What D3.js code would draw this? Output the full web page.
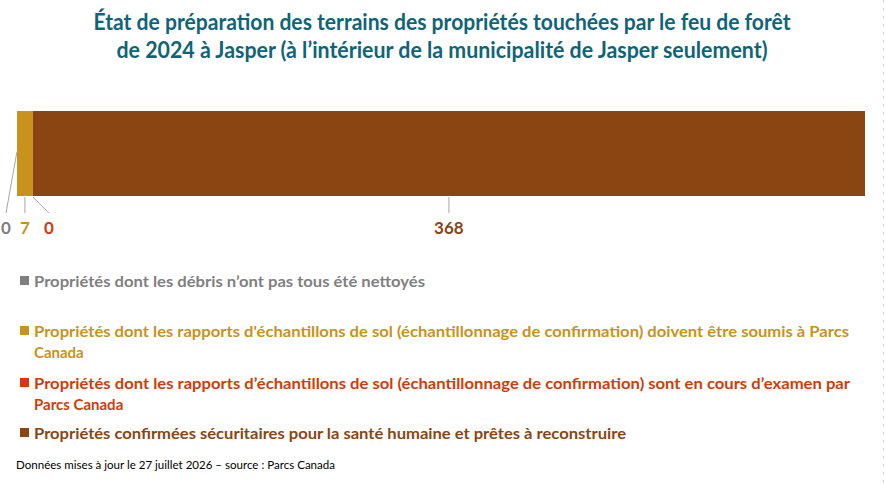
<!DOCTYPE html>
<html>
<head>
<meta charset="utf-8">
<style>
  body { margin: 0; background: #fff; }
  svg text { font-family: Lato, "Open Sans", sans-serif; font-weight: bold; }
</style>
</head>
<body>
<div id="chart"></div>
<script src="https://cdn.jsdelivr.net/npm/d3@7"></script>
<script>
// data
var categories = [
  "Propriétés dont les débris n’ont pas tous été nettoyés",
  "Propriétés dont les rapports d'échantillons de sol (échantillonnage de confirmation) doivent être soumis à Parcs Canada",
  "Propriétés dont les rapports d’échantillons de sol (échantillonnage de confirmation) sont en cours d’examen par Parcs Canada",
  "Propriétés confirmées sécuritaires pour la santé humaine et prêtes à reconstruire"
];
var values = [0, 7, 0, 368];
var colors = ["#7f7f7f", "#c9921c", "#d13b0b", "#8b4513"];
var legendLines = [
  ["Propriétés dont les débris n’ont pas tous été nettoyés"],
  ["Propriétés dont les rapports d'échantillons de sol (échantillonnage de confirmation) doivent être soumis à Parcs", "Canada"],
  ["Propriétés dont les rapports d’échantillons de sol (échantillonnage de confirmation) sont en cours d’examen par", "Parcs Canada"],
  ["Propriétés confirmées sécuritaires pour la santé humaine et prêtes à reconstruire"]
];
var titleLines = [
  "État de préparation des terrains des propriétés touchées par le feu de forêt",
  "de 2024 à Jasper (à l’intérieur de la municipalité de Jasper seulement)"
];
var footnote = "Données mises à jour le 27 juillet 2026 – source : Parcs Canada";

(function () {
  var width = 885, height = 484;
  var bar = { left: 17, right: 865, top: 111, bottom: 196 };

  var svg = d3.select("#chart").append("svg")
      .attr("width", width)
      .attr("height", height);

  // faint dashed edge on the right
  svg.append("line")
      .attr("x1", 883.5).attr("x2", 883.5)
      .attr("y1", 0).attr("y2", height)
      .style("stroke", "#d0d0d0")
      .style("stroke-width", 1)
      .style("stroke-dasharray", "2,6");

  // title
  svg.selectAll("text.title")
    .data(titleLines)
    .enter().append("text")
      .classed("title", true)
      .attr("x", 442)
      .attr("y", function (d, i) { return 30 + i * 28; })
      .attr("text-anchor", "middle")
      .attr("textLength", function (d, i) { return i === 0 ? 697 : 651; })
      .attr("lengthAdjust", "spacingAndGlyphs")
      .style("font-size", "22px")
      .style("fill", "#0f6478")
      .text(function (d) { return d; });

  // stacked bar
  var total = d3.sum(values);
  var xScale = d3.scaleLinear().domain([0, total]).range([bar.left, bar.right]);

  var stack = [];
  var acc = 0;
  values.forEach(function (v, i) {
    stack.push({ i: i, v: v, x0: acc, x1: acc + v });
    acc += v;
  });

  svg.selectAll("rect.seg")
    .data(stack)
    .enter().append("rect")
      .classed("seg", true)
      .attr("x", function (d) { return xScale(d.x0); })
      .attr("y", bar.top)
      .attr("width", function (d) { return xScale(d.x1) - xScale(d.x0); })
      .attr("height", bar.bottom - bar.top)
      .style("fill", function (d) { return colors[d.i]; });

  // data labels with leader lines
  var labelTop = 213, labelBase = 234;
  function labelX(d) {
    var mid = (xScale(d.x0) + xScale(d.x1)) / 2;
    if (d.v === 0) return d.i === 0 ? mid - 11 : mid + 16;
    return mid;
  }
  function anchorPt(d) {
    var mid = (xScale(d.x0) + xScale(d.x1)) / 2;
    if (d.v === 0 && d.i === 0) return [mid, (bar.top + bar.bottom) / 2 - 2];
    return [mid, bar.bottom + 1];
  }

  svg.selectAll("line.leader")
    .data(stack)
    .enter().append("line")
      .classed("leader", true)
      .attr("x1", function (d) { return anchorPt(d)[0]; })
      .attr("y1", function (d) { return anchorPt(d)[1]; })
      .attr("x2", function (d) { return labelX(d); })
      .attr("y2", labelTop)
      .style("stroke", "#a6a6a6")
      .style("stroke-width", 1);

  svg.selectAll("text.val")
    .data(stack)
    .enter().append("text")
      .classed("val", true)
      .attr("x", labelX)
      .attr("y", labelBase)
      .attr("text-anchor", "middle")
      .style("font-size", "17px")
      .style("fill", function (d) { return colors[d.i]; })
      .text(function (d) { return d.v; });

  // legend
  var rowY = [287, 337, 389, 439];
  var lineGap = 21;
  var legendWidths = [[391], [815, null], [816, null], [592]];

  var leg = svg.selectAll("g.leg")
    .data(categories)
    .enter().append("g")
      .classed("leg", true);

  leg.append("rect")
      .attr("x", 20)
      .attr("y", function (d, i) { return rowY[i] - 11; })
      .attr("width", 9)
      .attr("height", 9)
      .style("fill", function (d, i) { return colors[i]; });

  leg.each(function (d, i) {
    d3.select(this).selectAll("text")
      .data(legendLines[i])
      .enter().append("text")
        .attr("x", 34)
        .attr("y", function (t, j) { return rowY[i] + j * lineGap; })
        .attr("textLength", function (t, j) { return legendWidths[i][j]; })
        .attr("lengthAdjust", function (t, j) { return legendWidths[i][j] ? "spacingAndGlyphs" : null; })
        .style("font-size", "15px")
        .style("fill", colors[i])
        .text(function (t) { return t; });
  });

  // footnote
  svg.append("text")
      .attr("x", 16)
      .attr("y", 469)
      .attr("textLength", 319)
      .attr("lengthAdjust", "spacingAndGlyphs")
      .style("font-size", "12px")
      .style("font-weight", "normal")
      .style("fill", "#000")
      .text(footnote);
})();
</script>
</body>
</html>
